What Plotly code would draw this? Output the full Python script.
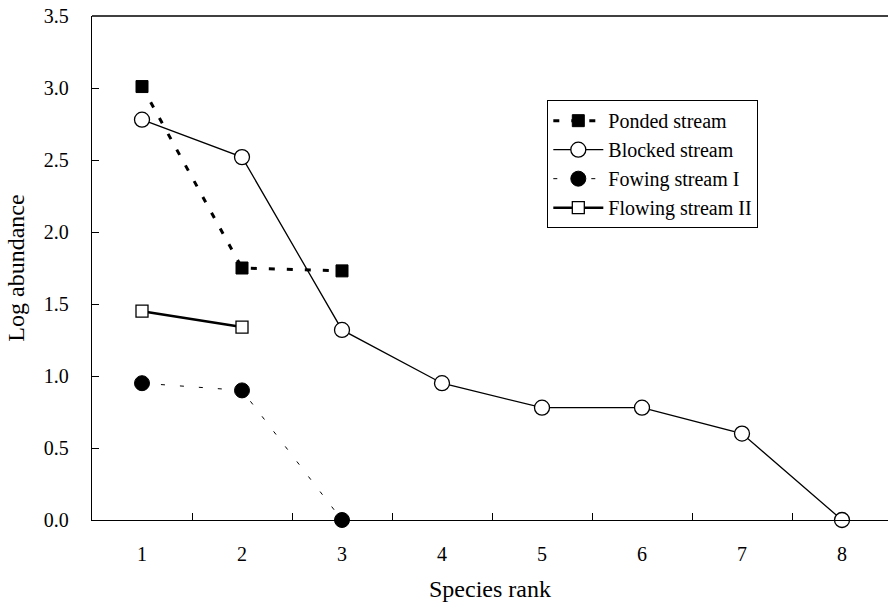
import plotly.graph_objects as go

# Data
ponded_rank = [1, 2, 3]
ponded_log = [3.01, 1.75, 1.73]

blocked_rank = [1, 2, 3, 4, 5, 6, 7, 8]
blocked_log = [2.78, 2.52, 1.32, 0.95, 0.78, 0.78, 0.60, 0.0]

flow1_rank = [1, 2, 3]
flow1_log = [0.95, 0.90, 0.0]

flow2_rank = [1, 2]
flow2_log = [1.45, 1.34]

categories = ["1", "2", "3", "4", "5", "6", "7", "8"]
y_ticks = [0, 0.5, 1.0, 1.5, 2.0, 2.5, 3.0, 3.5]

FONT = "Liberation Serif, Times New Roman, serif"

fig = go.Figure()

fig.add_trace(go.Scatter(
    x=[str(v) for v in ponded_rank], y=ponded_log, name="Ponded stream",
    mode="lines+markers",
    line=dict(color="black", width=3, dash="6px,12px"),
    marker=dict(symbol="square", size=12, color="black", line=dict(color="black", width=1)),
    cliponaxis=False,
))
fig.add_trace(go.Scatter(
    x=[str(v) for v in blocked_rank], y=blocked_log, name="Blocked stream",
    mode="lines+markers",
    line=dict(color="black", width=1.3),
    marker=dict(symbol="circle", size=15, color="white", line=dict(color="black", width=1.3)),
    cliponaxis=False,
))
fig.add_trace(go.Scatter(
    x=[str(v) for v in flow1_rank], y=flow1_log, name="Fowing stream I",
    mode="lines+markers",
    line=dict(color="black", width=1, dash="4px,15px"),
    marker=dict(symbol="circle", size=15, color="black", line=dict(color="black", width=1)),
    cliponaxis=False,
))
fig.add_trace(go.Scatter(
    x=[str(v) for v in flow2_rank], y=flow2_log, name="Flowing stream II",
    mode="lines+markers",
    line=dict(color="black", width=2.5),
    marker=dict(symbol="square", size=12, color="white", line=dict(color="black", width=1.3)),
    cliponaxis=False,
))

fig.update_layout(
    width=888, height=610,
    margin=dict(l=92, r=0, t=16, b=90),
    paper_bgcolor="white", plot_bgcolor="white",
    font=dict(family=FONT, size=20, color="black"),
    showlegend=True,
    legend=dict(
        x=0.572, y=0.833, xanchor="left", yanchor="top",
        bordercolor="black", borderwidth=1, bgcolor="white",
        font=dict(family=FONT, size=20, color="black"),
        itemwidth=50,
    ),
    xaxis=dict(
        type="category", categoryorder="array", categoryarray=categories,
        range=[-0.5, 7.46],
        tickson="boundaries", ticks="inside", ticklen=7, tickcolor="black",
        showline=True, linecolor="black", linewidth=1.3,
        showgrid=False, zeroline=False,
        ticklabelstandoff=16,
        title=dict(text="Species rank", font=dict(family=FONT, size=24), standoff=16),
    ),
    yaxis=dict(
        range=[0, 3.5], tickvals=y_ticks, tickformat=".1f",
        ticks="inside", ticklen=7, tickcolor="black",
        showline=True, linecolor="black", linewidth=1.3,
        showgrid=False, zeroline=False,
        ticklabelstandoff=18,
        title=dict(text="Log abundance", font=dict(family=FONT, size=24), standoff=12),
    ),
    shapes=[dict(type="line", xref="paper", yref="paper", x0=0, x1=1, y0=1, y1=1,
                 line=dict(color="black", width=1.3))],
)

fig.write_html("out.html")
